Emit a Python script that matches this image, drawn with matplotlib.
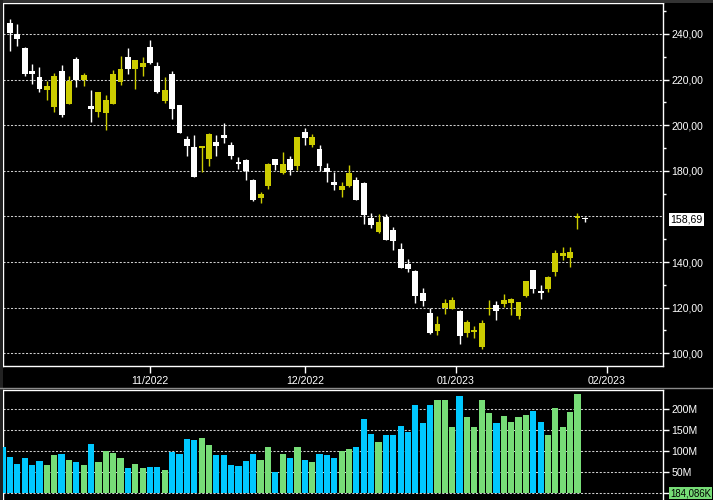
import matplotlib
matplotlib.use('Agg')
import matplotlib.pyplot as plt
import numpy as np
from matplotlib.patches import Rectangle
from matplotlib.lines import Line2D

# ---------------- data ----------------
# candles: Oct 5 2022 .. Jan 27 2023 (index 1..79); index 0 has only a volume bar
opens = [244.8, 239.9, 233.9, 223.9, 221.2, 215.6, 208.2, 223.8, 209.5, 229.1,
         219.7, 208.5, 206.0, 205.5, 209.5, 219.1, 229.9, 224.8, 225.7, 234.3,
         226.0, 210.8, 222.5, 208.9, 194.0, 190.5, 189.8, 185.4, 192.7, 195.8,
         191.4, 183.9, 184.8, 176.1, 168.0, 173.4, 185.3, 179.1, 185.3, 182.2,
         197.1, 191.4, 189.6, 181.3, 175.2, 171.7, 173.4, 176.1, 174.7, 159.3,
         153.2, 159.9, 154.0, 145.7, 139.1, 136.0, 126.5, 117.8, 109.9, 120.0,
         119.5, 118.6, 108.9, 109.3, 102.8, 119.4, 121.1, 121.6, 122.0, 116.3,
         125.1, 136.4, 127.1, 128.1, 135.5, 142.5, 141.7, 159.3, 159.1]
highs = [246.6, 244.4, 234.3, 226.9, 225.5, 219.3, 222.9, 226.4, 221.6, 229.9,
         222.9, 215.5, 214.6, 213.3, 224.2, 230.4, 233.9, 228.6, 229.9, 237.4,
         227.7, 221.2, 223.8, 208.9, 195.3, 195.8, 191.0, 196.6, 195.8, 201.0,
         192.7, 186.1, 185.3, 176.6, 170.6, 183.5, 185.3, 188.3, 186.6, 194.9,
         198.8, 196.2, 191.4, 183.5, 179.6, 175.2, 182.6, 177.4, 175.2, 161.3,
         160.9, 160.9, 155.3, 148.3, 141.3, 136.5, 128.7, 120.0, 116.5, 123.9,
         124.8, 119.1, 114.6, 112.0, 114.6, 123.3, 122.9, 126.0, 124.2, 122.4,
         131.6, 136.4, 129.9, 133.8, 145.2, 146.5, 146.5, 161.3, 159.7]
lows = [232.7, 234.9, 221.8, 218.2, 214.7, 211.2, 206.0, 203.8, 209.1, 216.9,
        217.4, 201.6, 203.4, 198.1, 209.5, 217.8, 222.5, 216.1, 221.8, 227.0,
        214.3, 209.9, 202.9, 196.4, 186.3, 177.1, 179.7, 182.3, 186.3, 192.0,
        185.4, 180.6, 176.1, 166.9, 166.0, 172.1, 180.4, 178.7, 178.2, 180.4,
        191.4, 190.5, 180.0, 174.9, 171.7, 168.6, 173.0, 167.0, 156.9, 154.9,
        152.7, 149.7, 145.3, 137.4, 135.6, 122.0, 120.8, 108.6, 108.2, 117.4,
        119.5, 104.2, 107.2, 106.7, 101.9, 116.8, 114.6, 120.3, 116.8, 115.0,
        124.6, 126.5, 123.8, 126.8, 133.8, 140.8, 137.7, 154.3, 157.5]
closes = [240.6, 238.0, 222.6, 222.6, 216.1, 217.2, 221.6, 204.7, 219.3, 220.0,
          222.0, 206.9, 214.6, 211.1, 222.5, 224.7, 224.8, 228.6, 227.3, 227.3,
          214.7, 215.5, 207.3, 196.8, 191.1, 177.5, 191.0, 196.2, 190.7, 194.2,
          186.7, 182.8, 180.0, 167.1, 169.7, 183.1, 182.6, 183.1, 180.4, 194.9,
          194.5, 194.9, 182.2, 179.6, 173.9, 173.4, 179.1, 167.1, 160.6, 156.1,
          157.5, 149.7, 149.2, 137.4, 136.9, 125.1, 123.0, 109.1, 113.0, 122.2,
          123.5, 107.7, 113.7, 110.2, 113.3, 119.8, 118.5, 123.3, 123.9, 122.4,
          131.6, 128.1, 126.5, 133.4, 143.8, 143.8, 144.3, 160.0, 158.69]
# volume in millions, index 0..79
volumes_m = [110.0, 86.5, 69.8, 84.1, 67.5, 77.0, 67.5, 91.3, 93.7, 79.4,
             74.6, 67.5, 117.5, 74.6, 100.8, 96.0, 84.1, 60.3, 69.8, 60.3,
             62.7, 62.7, 55.6, 98.4, 93.7, 129.4, 127.0, 131.7, 115.0, 91.3,
             91.3, 67.5, 65.0, 77.0, 93.7, 79.4, 110.3, 50.8, 93.7, 84.1,
             110.3, 79.4, 74.6, 93.7, 91.3, 84.1, 100.8, 105.6, 110.3, 177.0,
             141.3, 122.2, 138.9, 138.9, 160.3, 146.0, 210.3, 167.5, 210.3, 222.2,
             222.2, 157.9, 231.7, 181.7, 157.9, 222.2, 191.3, 167.5, 184.1, 169.8,
             181.7, 186.5, 196.0, 169.8, 138.9, 203.2, 157.9, 193.7, 236.5, 1.5]
first_volume_up = False
month_labels = ['11/2022', '12/2022', '01/2023', '02/2023']
month_pos = [20, 41, 61.5, 82]
last_price_label = '158,69'
last_volume_label = '184,086K'
last_price = 158.69

# ---------------- style ----------------
UP_C = '#cccc00'
DN_C = '#ffffff'
VUP_C = '#77dd77'
VDN_C = '#00c8ff'
GRID_C = '#cfcfcf'
FONT = 'Liberation Sans'
FS = 7.6

W, H = 713, 500
fig = plt.figure(figsize=(W / 100, H / 100), dpi=100, facecolor='black')


def frac(x0, y0, x1, y1):
    return [x0 / W, 1 - y1 / H, (x1 - x0) / W, (y1 - y0) / H]


axp = fig.add_axes(frac(3, 3, 662.7, 366))
axv = fig.add_axes(frac(3, 390.3, 662.7, 500))

X0 = 2.63
DX = 7.37
xlim = ((3 - X0) / DX, (662.7 - X0) / DX)

for ax in (axp, axv):
    ax.set_facecolor('black')
    ax.set_xlim(*xlim)
    for s in ax.spines.values():
        s.set_color('white')
        s.set_linewidth(1.0)

# price panel
ppx = 2.281  # px per unit
axp.set_ylim(100 - (366 - 353.3) / ppx, 240 + (34 - 3) / ppx)

n = len(opens)
idx = np.arange(1, n + 1)
o = np.array(opens); c = np.array(closes); hi = np.array(highs); lo = np.array(lows)
up = c >= o
cols = np.where(up, UP_C, DN_C)
min_h = 1.0 / ppx
body_bot = np.minimum(o, c)
body_h = np.maximum(np.abs(c - o), min_h)

for g in range(100, 241, 20):
    axp.axhline(g, color=GRID_C, lw=0.75, dashes=(2, 1.6), zorder=1)

axp.vlines(idx, lo, hi, colors=cols, lw=1.0, zorder=3)
axp.bar(idx, body_h, bottom=body_bot, width=0.8, color=cols, linewidth=0, zorder=4)

axp.yaxis.tick_right()
maj = [v for v in range(100, 241, 20) if v != 160]
axp.set_yticks(maj)
axp.set_yticklabels([f"{v:.2f}".replace('.', ',') for v in maj])
axp.set_yticks(list(range(110, 251, 20)), minor=True)
axp.tick_params(axis='y', which='major', length=4.1, width=1.0, colors='white',
                labelsize=FS, pad=2.0)
axp.tick_params(axis='y', which='minor', length=2.2, width=1.0, colors='white')
axp.set_xticks(month_pos)
axp.set_xticklabels(month_labels)
axp.tick_params(axis='x', length=4.8, width=1.0, colors='white', labelsize=FS, pad=2.5,
                direction='out')
for lab in axp.get_xticklabels() + axp.get_yticklabels():
    lab.set_fontfamily(FONT)

axp.text(1 + 7.5 / 659.7, last_price, last_price_label, transform=axp.get_yaxis_transform(),
         ha='left', va='center', color='black', fontsize=FS, fontfamily=FONT,
         bbox=dict(boxstyle='square,pad=0.12', facecolor='white', edgecolor='none'),
         zorder=10, clip_on=False)

# volume panel
vpx = 0.42  # px per million
axv.set_ylim(-(500 - 493.3) / vpx, 200 + (409.3 - 390.3) / vpx)
vidx = np.arange(0, len(volumes_m))
v_up = [first_volume_up] + list(up)
vcols = [VUP_C if u else VDN_C for u in v_up]
for g in range(0, 201, 50):
    axv.axhline(g, color=GRID_C, lw=0.75, dashes=(2, 1.6), zorder=1)
axv.bar(vidx, volumes_m, width=0.84, color=vcols, linewidth=0, zorder=3)
axv.spines['bottom'].set_visible(False)
axv.yaxis.tick_right()
axv.set_yticks([0, 50, 100, 150, 200])
axv.set_yticklabels(['', '50M', '100M', '150M', '200M'])
axv.tick_params(axis='y', length=4.1, width=1.0, colors='white', labelsize=FS, pad=2.0)
axv.set_xticks([])
for lab in axv.get_yticklabels():
    lab.set_fontfamily(FONT)
axv.text(1 + 7.3 / 659.7, 0, last_volume_label, transform=axv.get_yaxis_transform(),
         ha='left', va='center', color='black', fontsize=6.9, fontfamily=FONT,
         bbox=dict(boxstyle='square,pad=0.12', facecolor=VUP_C, edgecolor='none'),
         zorder=10, clip_on=False)

# frame decorations
fig.add_artist(Rectangle((0, 1 - 2.5 / H), 1, 2.5 / H, transform=fig.transFigure,
                         facecolor='#333333', edgecolor='none'))
fig.add_artist(Rectangle((0, 0), 2.5 / W, 1, transform=fig.transFigure,
                         facecolor='#222222', edgecolor='none'))
fig.add_artist(Line2D([0, 1], [1 - 388.3 / H, 1 - 388.3 / H], transform=fig.transFigure,
                      color='#8a8a8a', lw=1.0))

fig.savefig('out.png', dpi=100, facecolor='black')
